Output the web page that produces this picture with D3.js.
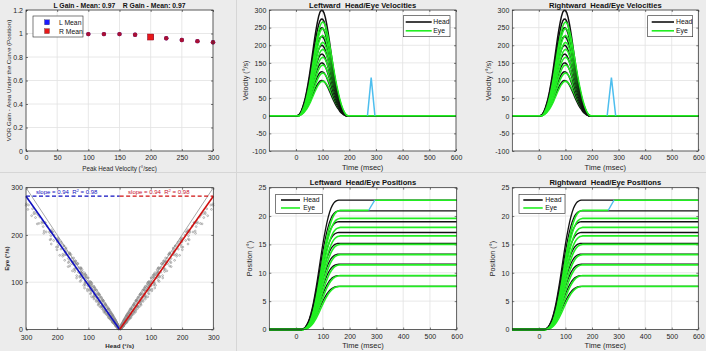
<!DOCTYPE html>
<html><head><meta charset="utf-8">
<script src="https://cdn.jsdelivr.net/npm/d3@7"></script>
<style>
body{margin:0;background:#ececec;}
svg{display:block;font-family:"Liberation Sans",Arial,sans-serif;}
svg text{white-space:pre;}
</style></head>
<body><svg id="c" width="706" height="351"></svg>
<script>
// ---------------- DATA ----------------
const peakHeadVel = [100,125,150,175,200,225,250,275,300];
const gainL = [0.995,0.995,0.995,0.99,0.97,0.96,0.945,0.935,0.925];
const gainR = [0.995,0.995,0.995,0.99,0.97,0.96,0.945,0.935,0.925];
const meanGain = {L:0.97, R:0.97};
const meanVel = 200;

const headPeaks = [100,125,150,175,200,225,250,275,300];
const eyePeaks  = [98,121,144,166,188,208,228,248,266];

// sample times (ms)
const T = [0,5,10,15,20,25,30,35,40,45,50,55,60,65,70,75,80,85,90,95,100,105,110,115,120,125,130,135,140,145,150,155,160,165,170,175,180,185,190,195,200];
// normalised velocity profiles
const headVelShape = [0,0,0.005,0.02,0.045,0.08,0.12,0.17,0.23,0.30,0.375,0.46,0.55,0.64,0.73,0.81,0.88,0.94,0.98,0.998,0.996,0.973,0.93,0.869,0.795,0.712,0.624,0.535,0.449,0.369,0.297,0.233,0.18,0.12,0.08,0.05,0.025,0.008,0,0,0];
const eyeVelShape  = [0,0,0,0.01,0.03,0.06,0.095,0.14,0.195,0.26,0.33,0.41,0.5,0.59,0.68,0.765,0.84,0.905,0.955,0.987,1.0,0.99,0.96,0.91,0.85,0.775,0.695,0.61,0.525,0.44,0.365,0.295,0.23,0.17,0.12,0.08,0.045,0.02,0.005,0,0];
// normalised position profiles
const headPosShape = [0,0,0,0,0,0.003,0.01,0.02,0.036,0.058,0.085,0.12,0.162,0.21,0.265,0.325,0.39,0.458,0.527,0.595,0.66,0.72,0.775,0.825,0.868,0.905,0.935,0.958,0.975,0.987,0.994,0.998,1,1,1,1,1,1,1,1,1];
const eyePosShape  = [0,0,0,0,0,0,0.004,0.01,0.02,0.035,0.055,0.082,0.116,0.157,0.205,0.26,0.32,0.385,0.453,0.522,0.59,0.655,0.715,0.77,0.82,0.863,0.9,0.93,0.955,0.973,0.985,0.993,0.997,1,1,1,1,1,1,1,1];

const headFinal = [7.6,9.5,11.5,13.3,15.2,17.1,19.0,20.9,22.8];
const eyeFinal  = [7.6,9.5,11.4,13.2,15.0,16.5,18.0,19.6,21.0];

// catch-up saccade (on the largest impulse)
const saccVelL = [[268,0],[282,108],[296,0]];
const saccVelR = [[257,0],[273,108],[289,0]];
const saccPosL = [[271,21.0],[294,22.8]];
const saccPosR = [[261,21.0],[283,22.8]];

const fitSlope = [0.94,0.94];
const fitR2 = [0.98,0.98];

const velTicksX = [0,100,200,300,400,500,600];
const velTicksY = [-100,-50,0,50,100,150,200,250,300];
const posTicksY = [0,5,10,15,20,25];
const gainTicksX = [0,50,100,150,200,250,300];
const gainTicksY = [0,0.2,0.4,0.6,0.8,1,1.2];
const scTicksX = [-300,-200,-100,0,100,200,300];
const scTicksY = [0,100,200,300];

// ---------------- DRAW ----------------
const svg = d3.select('#c');
const GREEN = '#22ee22', BLACK = '#111', SAC = '#4DBEEE';
const BLUE = '#1010c0', RED = '#d01010';
const TICKFS = '7px';

// separators
svg.append('line').attr('x1',236.5).attr('x2',236.5).attr('y1',0).attr('y2',351).attr('stroke','#d6d6d6');
svg.append('line').attr('x1',0).attr('x2',706).attr('y1',172.5).attr('y2',172.5).attr('stroke','#d6d6d6');

function panel(o){
  const g = svg.append('g');
  const x = d3.scaleLinear().domain(o.xd).range([o.x0,o.x1]);
  const y = d3.scaleLinear().domain(o.yd).range([o.y1,o.y0]);
  g.append('rect').attr('x',o.x0).attr('y',o.y0).attr('width',o.x1-o.x0).attr('height',o.y1-o.y0).attr('fill','#fff');
  const gg = g.append('g').attr('stroke','#e2e2e2').attr('stroke-width',0.8);
  o.xt.forEach(v=>gg.append('line').attr('x1',x(v)).attr('x2',x(v)).attr('y1',o.y0).attr('y2',o.y1));
  o.yt.forEach(v=>gg.append('line').attr('y1',y(v)).attr('y2',y(v)).attr('x1',o.x0).attr('x2',o.x1));
  const fmtX = o.xf || (d=>d), fmtY = o.yf || (d=>d);
  const style = s=>{s.select('.domain').remove(); s.selectAll('line').attr('stroke','#262626').attr('stroke-width',0.6);
    s.selectAll('text').attr('font-size',TICKFS).attr('fill','#262626').attr('font-family','"Liberation Sans",Arial,sans-serif');};
  g.append('g').attr('transform',`translate(0,${o.y1})`).call(d3.axisBottom(x).tickValues(o.xt).tickFormat(fmtX).tickSizeInner(-2).tickSizeOuter(0).tickPadding(o.xpad||4.5)).call(style);
  g.append('g').attr('transform',`translate(0,${o.y0})`).call(d3.axisTop(x).tickValues(o.xt).tickFormat('').tickSizeInner(-2).tickSizeOuter(0)).call(style);
  g.append('g').attr('transform',`translate(${o.x0},0)`).call(d3.axisLeft(y).tickValues(o.yt).tickFormat(fmtY).tickSizeInner(-2).tickSizeOuter(0).tickPadding(3)).call(style);
  g.append('g').attr('transform',`translate(${o.x1},0)`).call(d3.axisRight(y).tickValues(o.yt).tickFormat('').tickSizeInner(-2).tickSizeOuter(0)).call(style);
  const content = g.append('g');
  const top = g.append('g');
  top.append('rect').attr('x',o.x0).attr('y',o.y0).attr('width',o.x1-o.x0).attr('height',o.y1-o.y0).attr('fill','none').attr('stroke','#262626').attr('stroke-width',0.7);
  if(o.title) top.append('text').attr('x',(o.x0+o.x1)/2).attr('y',o.y0-2.5).attr('text-anchor','middle').attr('font-size',o.tfs||'7.6px').attr('font-weight','bold').attr('fill','#111').text(o.title);
  if(o.xl) top.append('text').attr('x',(o.x0+o.x1)/2).attr('y',o.xly).attr('text-anchor','middle').attr('font-size',o.xls||'7.5px').attr('font-weight',o.xlb?'bold':'normal').attr('fill','#262626').text(o.xl);
  if(o.yl) top.append('text').attr('transform',`translate(${o.ylx},${(o.y0+o.y1)/2}) rotate(-90)`).attr('text-anchor','middle').attr('font-size',o.yls||'7.2px').attr('font-weight',o.ylb?'bold':'normal').attr('fill','#262626').text(o.yl);
  return {g:content, top, x, y};
}

function legend(top, bx, by, bw, bh, items){
  top.append('rect').attr('x',bx).attr('y',by).attr('width',bw).attr('height',bh).attr('fill','#fff').attr('stroke','#262626').attr('stroke-width',0.6);
  items.forEach((it,i)=>{
    const yy = by + bh*(0.3+0.42*i);
    if(it.type==='line'){
      top.append('line').attr('x1',bx+it.lx0).attr('x2',bx+it.lx1).attr('y1',yy).attr('y2',yy).attr('stroke',it.c).attr('stroke-width',1.6);
    } else {
      top.append('rect').attr('x',bx+it.lx0-2.5).attr('y',yy-2.5).attr('width',5).attr('height',5).attr('fill',it.c).attr('stroke','#333').attr('stroke-width',0.3);
    }
    top.append('text').attr('x',bx+it.tx).attr('y',yy+2.4).attr('font-size','6.8px').attr('fill','#111').text(it.t);
  });
}

const line = d3.line();

// ---- Panel 1: gain ----
{
  const p = panel({x0:26,x1:213,y0:10,y1:151,xd:[0,300],yd:[0,1.2],xt:gainTicksX,yt:gainTicksY,
    title:'L Gain - Mean: '+meanGain.L.toFixed(2)+'    R Gain - Mean: '+meanGain.R.toFixed(2), tfs:'6.8px',
    xl:'Peak Head Velocity (°/sec)', xly:170.5, xls:'6.3px', yl:'VOR Gain - Area Under the Curve (Position)', ylx:10.5, yls:'6.2px'});
  peakHeadVel.forEach((v,i)=>p.g.append('circle').attr('cx',p.x(v)).attr('cy',p.y(gainL[i])).attr('r',2.2).attr('fill',BLUE));
  peakHeadVel.forEach((v,i)=>p.g.append('circle').attr('cx',p.x(v)).attr('cy',p.y(gainR[i])).attr('r',2.2).attr('fill',RED).attr('fill-opacity',0.8));
  p.g.append('rect').attr('x',p.x(meanVel)-3).attr('y',p.y(meanGain.L)-3).attr('width',6).attr('height',6).attr('fill',BLUE);
  p.g.append('rect').attr('x',p.x(meanVel)-3).attr('y',p.y(meanGain.R)-3).attr('width',6).attr('height',6).attr('fill','#e81818').attr('stroke','#a01020').attr('stroke-width',0.5);
  legend(p.top,33,16,50,21,[{type:'sq',c:'#1a1aff',lx0:14,tx:26,t:'L Mean'},{type:'sq',c:'#e81818',lx0:14,tx:26,t:'R Mean'}]);
}

// ---- velocity panels ----
function velPanel(x0,x1,ylx,title,sacc,leg){
  const p = panel({x0,x1,y0:10,y1:151,xd:[-100,600],yd:[-100,300],xt:velTicksX,yt:velTicksY,
    title, xl:'Time (msec)', xly:169.5, yl:'Velocity (°/s)', ylx});
  headPeaks.forEach((hp,i)=>{
    const hs = [[-100,0]].concat(T.map((t,k)=>[t,hp*headVelShape[k]])).concat([[600,0]]);
    const es = [[-100,0]].concat(T.map((t,k)=>[t,eyePeaks[i]*eyeVelShape[k]])).concat([[600,0]]);
    p.g.append('path').attr('d',line(hs.map(d=>[p.x(d[0]),p.y(d[1])]))).attr('fill','none').attr('stroke',BLACK).attr('stroke-width',1.5);
    p.g.append('path').attr('d',line(es.map(d=>[p.x(d[0]),p.y(d[1])]))).attr('fill','none').attr('stroke',GREEN).attr('stroke-width',1.5);
  });
  p.g.append('path').attr('d',line(sacc.map(d=>[p.x(d[0]),p.y(d[1])]))).attr('fill','none').attr('stroke',SAC).attr('stroke-width',1.5);
  legend(p.top,leg[0],15.7,leg[1],21,[{type:'line',c:BLACK,lx0:leg[2],lx1:leg[3],tx:leg[4],t:'Head'},{type:'line',c:GREEN,lx0:leg[2],lx1:leg[3],tx:leg[4],t:'Eye'}]);
}
velPanel(269.3,456,248,'Leftward  Head/Eye Velocities',saccVelL,[403.3,46.7,2.4,28.4,30]);
velPanel(512.3,698.3,491,'Rightward  Head/Eye Velocities',saccVelR,[647.7,45,4,26.3,28.3]);

// ---- position panels ----
function posPanel(x0,x1,ylx,title,sacc,leg){
  const p = panel({x0,x1,y0:187.7,y1:329.5,xd:[-100,600],yd:[0,25],xt:velTicksX,yt:posTicksY,
    title, xl:'Time (msec)', xly:347.5, yl:'Position (°)', ylx});
  headPeaks.forEach((hp,i)=>{
    const hs = [[-100,0]].concat(T.map((t,k)=>[t,headFinal[i]*headPosShape[k]])).concat([[600,headFinal[i]]]);
    let es = [[-100,0]].concat(T.map((t,k)=>[t,eyeFinal[i]*eyePosShape[k]]));
    p.g.append('path').attr('d',line(hs.map(d=>[p.x(d[0]),p.y(d[1])]))).attr('fill','none').attr('stroke',BLACK).attr('stroke-width',1.3);
    if(i===headPeaks.length-1){
      es = es.concat([sacc[0]]);
      p.g.append('path').attr('d',line(es.map(d=>[p.x(d[0]),p.y(d[1])]))).attr('fill','none').attr('stroke',GREEN).attr('stroke-width',1.6);
      p.g.append('path').attr('d',line([[sacc[1][0],sacc[1][1]],[600,sacc[1][1]]].map(d=>[p.x(d[0]),p.y(d[1])]))).attr('fill','none').attr('stroke',GREEN).attr('stroke-width',1.6);
      p.g.append('path').attr('d',line(sacc.map(d=>[p.x(d[0]),p.y(d[1])]))).attr('fill','none').attr('stroke',SAC).attr('stroke-width',1.3);
    } else {
      es = es.concat([[600,eyeFinal[i]]]);
      p.g.append('path').attr('d',line(es.map(d=>[p.x(d[0]),p.y(d[1])]))).attr('fill','none').attr('stroke',GREEN).attr('stroke-width',1.6);
    }
  });
  legend(p.top,leg[0],194.3,leg[1],19,[{type:'line',c:BLACK,lx0:leg[2],lx1:leg[3],tx:leg[4],t:'Head'},{type:'line',c:GREEN,lx0:leg[2],lx1:leg[3],tx:leg[4],t:'Eye'}]);
}
posPanel(269.3,456.7,252,'Leftward  Head/Eye Positions',saccPosL,[275.7,46.6,5.3,24.3,27.6]);
posPanel(512.3,698.3,495,'Rightward  Head/Eye Positions',saccPosR,[519,46,4.3,23.7,26.3]);

// ---- Panel 4: eye vs head scatter ----
{
  const p = panel({x0:26,x1:213.3,y0:187.7,y1:329.5,xd:[-300,300],yd:[0,300],xt:scTicksX,yt:scTicksY, xpad:5.5,
    xf:d=>Math.abs(d), xl:'Head (°/s)', xly:347.5, xlb:true, xls:'6.2px', yl:'Eye (°/s)', ylx:9, ylb:true, yls:'6.2px'});
  // unity lines
  p.g.append('path').attr('d',line([[-300,300],[0,0],[300,300]].map(d=>[p.x(d[0]),p.y(d[1])]))).attr('fill','none').attr('stroke','#a8a8a8').attr('stroke-width',1);
  // samples: head vs eye velocity from the velocity traces
  [-1,1].forEach(side=>{
    headPeaks.forEach((hp,i)=>{
      T.forEach((t,k)=>{
        const h = hp*headVelShape[k], e = eyePeaks[i]*eyeVelShape[k];
        if(h<2 && e<2) return;
        p.g.append('circle').attr('cx',p.x(side*h)).attr('cy',p.y(e)).attr('r',0.9).attr('fill','none').attr('stroke','#8a8a8a').attr('stroke-width',0.6);
      });
    });
  });
  const sL = fitSlope[0], sR = fitSlope[1];
  p.g.append('path').attr('d',line([[0,0],[-300,300*sL]].map(d=>[p.x(d[0]),p.y(d[1])]))).attr('stroke',BLUE).attr('stroke-width',1.6);
  p.g.append('path').attr('d',line([[0,0],[300,300*sR]].map(d=>[p.x(d[0]),p.y(d[1])]))).attr('stroke',RED).attr('stroke-width',1.6);
  p.g.append('path').attr('d',line([[-300,300*sL],[0,300*sL]].map(d=>[p.x(d[0]),p.y(d[1])]))).attr('stroke',BLUE).attr('stroke-width',1.2).attr('stroke-dasharray','4,2.5');
  p.g.append('path').attr('d',line([[0,300*sR],[300,300*sR]].map(d=>[p.x(d[0]),p.y(d[1])]))).attr('stroke',RED).attr('stroke-width',1.2).attr('stroke-dasharray','4,2.5');
  const mk = (xv, col, i, s)=>{
    const t = p.top.append('text').attr('x',p.x(xv)).attr('y',p.y(300*s)-2).attr('font-size','6px').attr('fill',col);
    t.append('tspan').text('slope = '+s.toFixed(2)+'  R');
    t.append('tspan').attr('font-size','4.2px').attr('dy',-2.3).text('2');
    t.append('tspan').attr('dy',2.3).text(' = '+fitR2[i].toFixed(2));
  };
  mk(-268, BLUE, 0, sL);
  mk(27, '#c8102e', 1, sR);
}
</script></body></html>
